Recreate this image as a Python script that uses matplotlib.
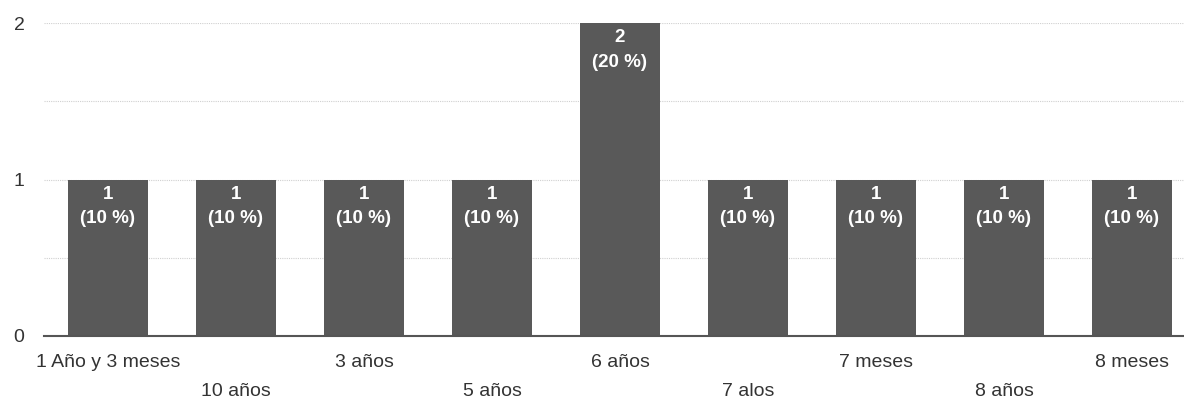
import numpy as np
import matplotlib.pyplot as plt

plt.rcParams['font.family'] = ['Liberation Sans', 'DejaVu Sans']

# data
categories = ['1 Año y 3 meses', '10 años', '3 años', '5 años', '6 años',
              '7 alos', '7 meses', '8 años', '8 meses']
counts = [1, 1, 1, 1, 2, 1, 1, 1, 1]
percents = [10, 10, 10, 10, 20, 10, 10, 10, 10]

fig = plt.figure(figsize=(11.84, 4.0), dpi=100)
ax = fig.add_axes([44 / 1184, 64 / 400, (1196 - 44) / 1184, (336 - 23) / 400])

x = np.arange(len(categories))
ax.bar(x, counts, width=0.625, color='#595959', zorder=2)

# value labels inside the bars
for xi, c, p in zip(x, counts, percents):
    ax.text(xi, c - 0.04, str(c), ha='center', va='top', color='white',
            fontsize=13.5, fontweight='bold', zorder=3)
    ax.text(xi, c - 0.195, '(%d %%)' % p, ha='center', va='top', color='white',
            fontsize=13.5, fontweight='bold', zorder=3)

ax.set_xlim(-0.5, len(categories) - 0.5)
ax.set_ylim(0, 2)
ax.set_yticks([0, 1, 2])
ax.set_yticklabels(['0', '1', '2'], fontsize=14, color='#333333')
for yv in [0.5, 1, 1.5, 2]:
    ax.axhline(yv, color='#d0d0d0', lw=0.8, ls=(0, (1, 1)), zorder=1)
ax.tick_params(axis='y', length=0, pad=14)

# alternating two-row category labels
ax.set_xticks([])
for i, (xi, lab) in enumerate(zip(x, categories)):
    ypos = -0.085 if i % 2 == 0 else -0.177
    ax.text(xi, ypos, lab, ha='center', va='center', fontsize=14,
            color='#333333', transform=ax.get_xaxis_transform())

for s in ['top', 'right', 'left']:
    ax.spines[s].set_visible(False)
ax.spines['bottom'].set_color('#555555')
ax.spines['bottom'].set_linewidth(1.5)

plt.savefig('out.png', dpi=100)
